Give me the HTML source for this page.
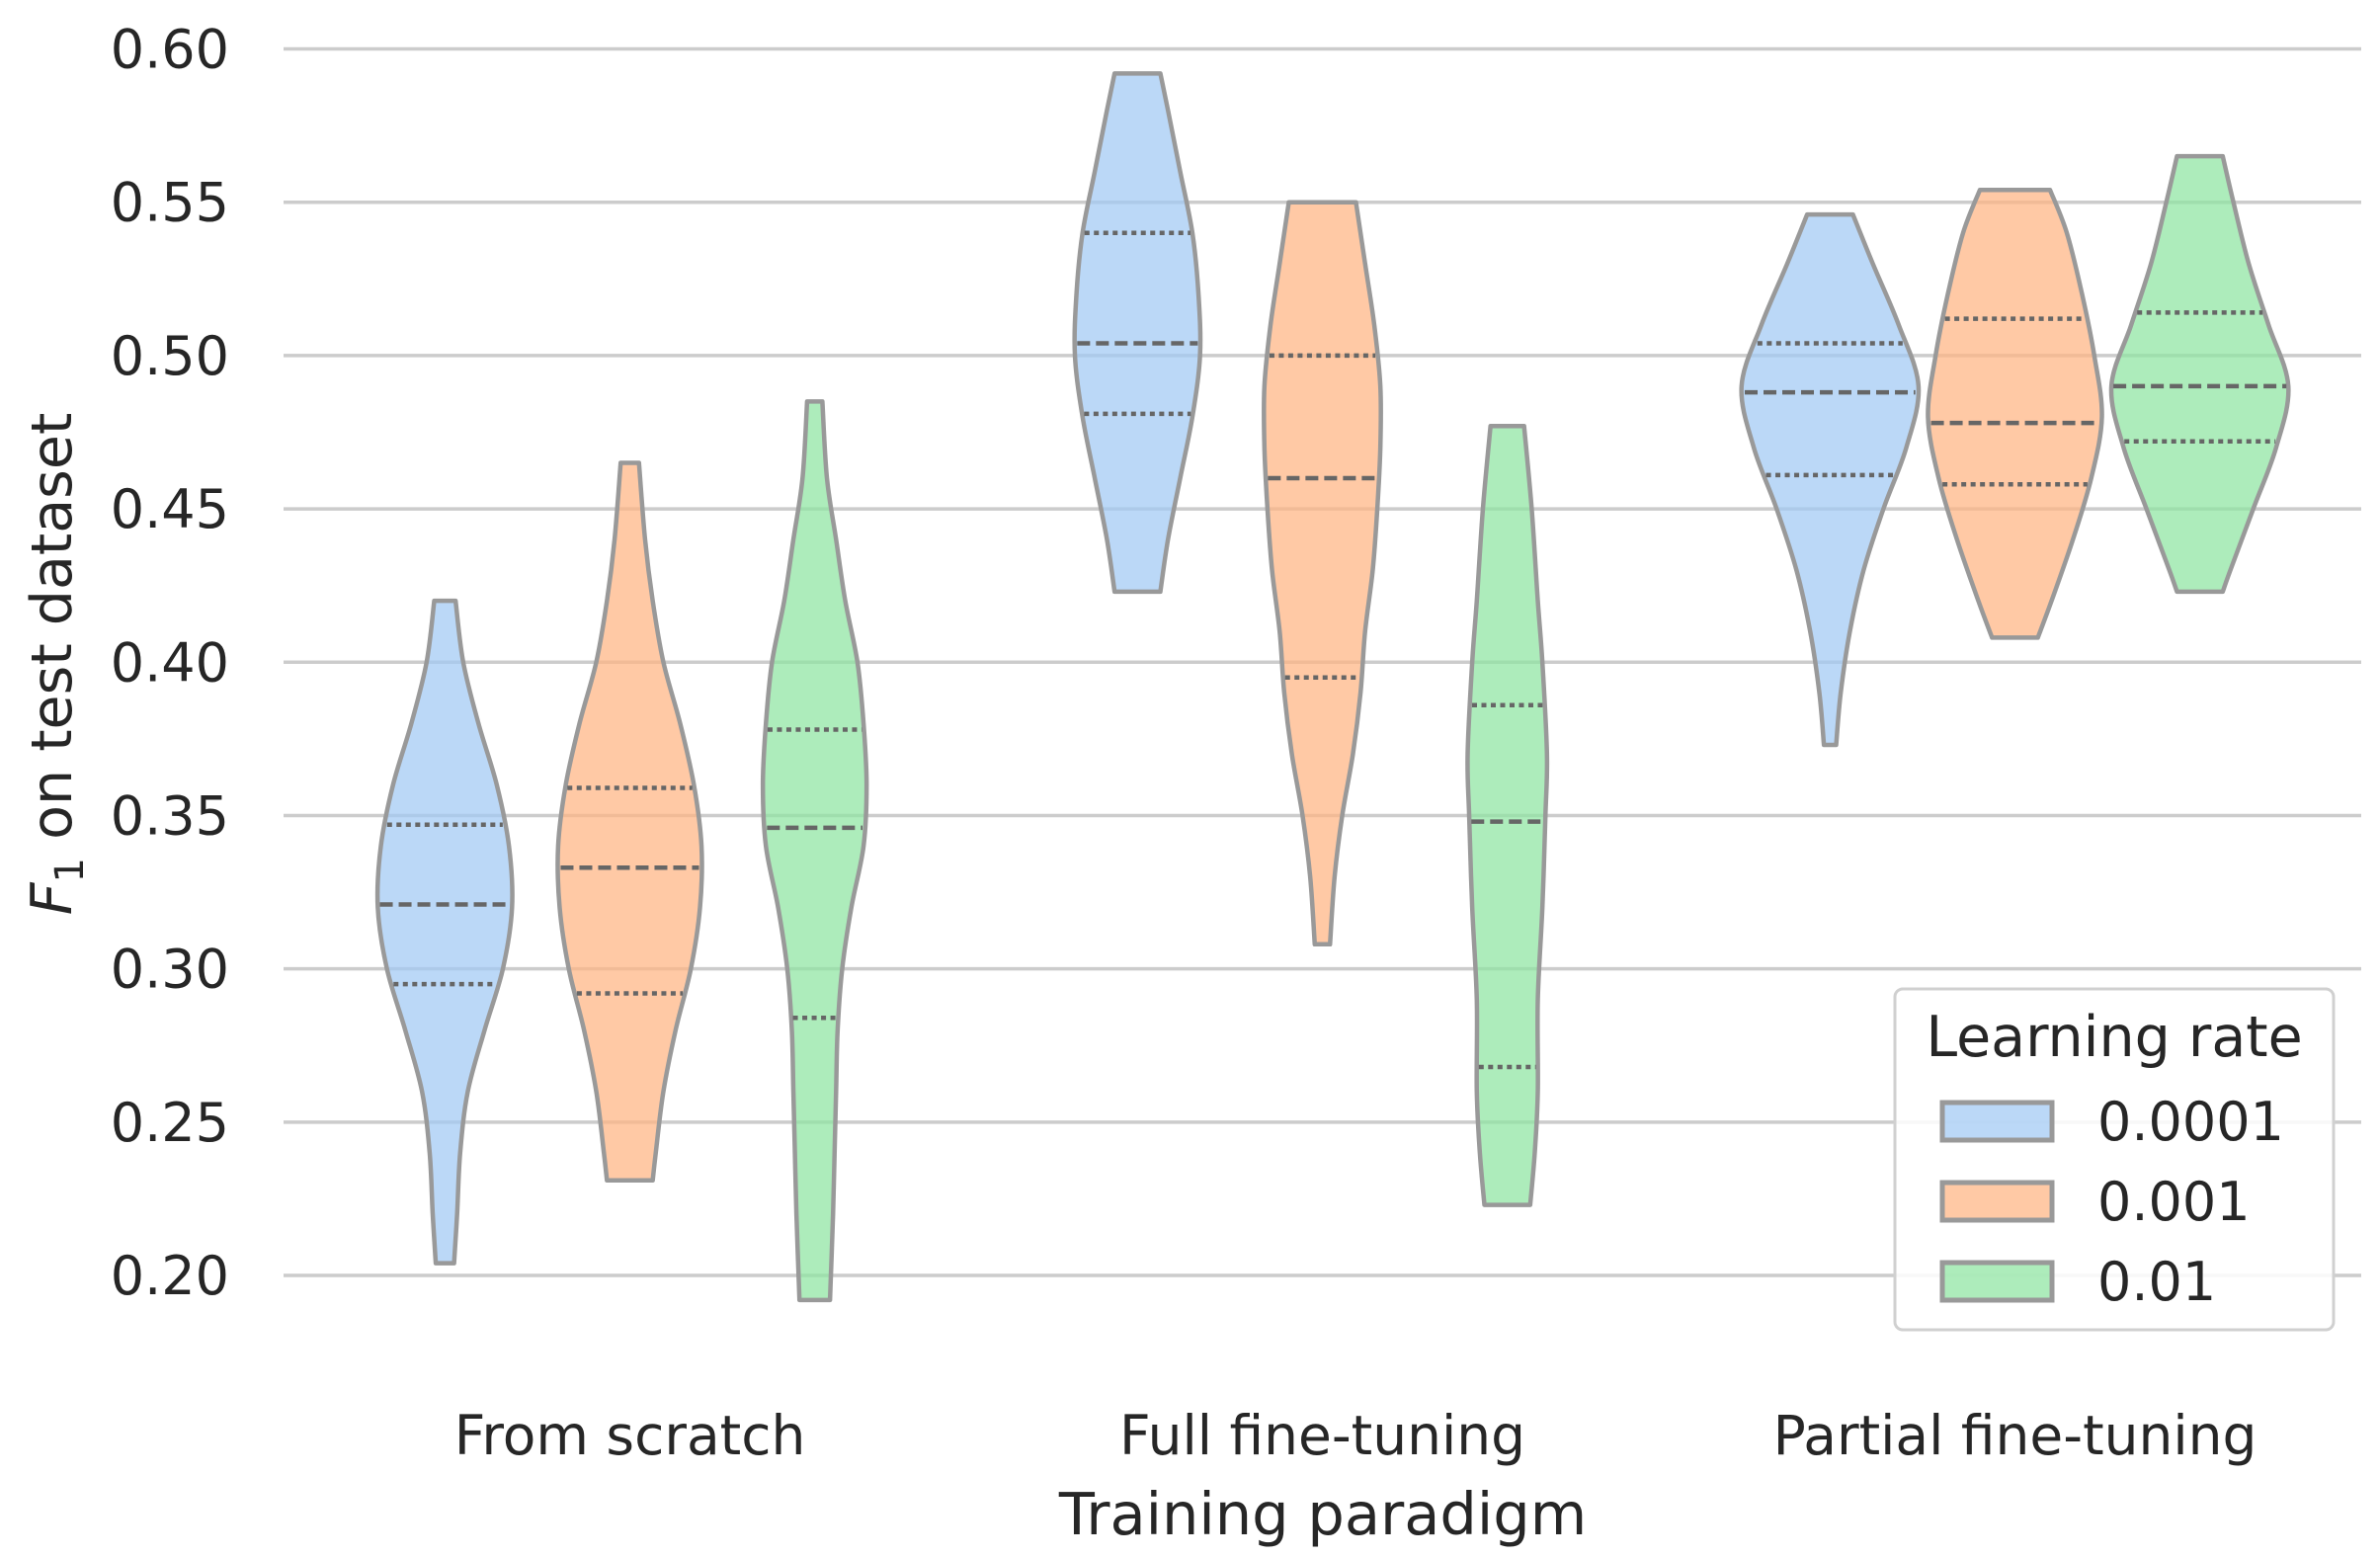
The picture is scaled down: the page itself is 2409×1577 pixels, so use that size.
<!DOCTYPE html>
<html><head><meta charset="utf-8"><style>
html,body{margin:0;padding:0;background:#fff;}
svg{display:block;font-family:"DejaVu Sans","Liberation Sans",sans-serif;}
</style></head><body>
<svg id="chart" width="2409" height="1577" viewBox="0 0 2409 1577" xmlns="http://www.w3.org/2000/svg">
<g id="grid"></g>
<g id="yticks"></g>
<g id="violins"></g>
<g id="xticks"></g>
<text x="1339" y="1553" font-size="59" text-anchor="middle" fill="#262626">Training paradigm</text>
<text transform="translate(72,672) rotate(-90)" font-size="57" text-anchor="middle" fill="#262626"><tspan font-style="italic">F</tspan><tspan font-size="40" dy="12">1</tspan><tspan dy="-12"> on test dataset</tspan></text>
<g id="legend">
<rect x="1918" y="1001" width="444" height="345" rx="8" fill="#fff" fill-opacity="0.85" stroke="#d0d0d0" stroke-width="3"/>
<text x="2140" y="1069" font-size="57" text-anchor="middle" fill="#262626">Learning rate</text>
</g>
</svg>
<script>
const categories = ["From scratch","Full fine-tuning","Partial fine-tuning"];
const hues = ["0.0001","0.001","0.01"];
const yTicks = [0.20,0.25,0.30,0.35,0.40,0.45,0.50,0.55,0.60];
const colors = ["#a1c9f4","#ffb482","#8de5a1"];
// quartiles per violin [q1, median, q3], order: category-major, hue-minor
const quartiles = [
 [0.295,0.321,0.347],[0.292,0.333,0.359],[0.284,0.346,0.378],
 [0.481,0.504,0.540],[0.395,0.460,0.500],[0.268,0.348,0.386],
 [0.461,0.488,0.504],[0.458,0.478,0.512],[0.472,0.490,0.514]
];
// density profiles: [value, relative density width]
const profiles = [
 [[0.420,7],[0.40,12],[0.38,22],[0.36,34],[0.34,42],[0.32,44],[0.30,38],[0.28,26],[0.26,15],[0.24,10],[0.22,8],[0.204,6]],
 [[0.465,6],[0.44,10],[0.42,15],[0.40,22],[0.38,33],[0.36,42],[0.34,47],[0.32,46],[0.30,40],[0.28,30],[0.26,22],[0.24,17],[0.231,15]],
 [[0.485,5],[0.46,8],[0.44,14],[0.42,20],[0.40,28],[0.38,32],[0.36,34],[0.34,32],[0.32,24],[0.30,18],[0.28,15],[0.26,14],[0.24,13],[0.22,12],[0.192,10]],
 [[0.592,15],[0.58,20],[0.56,28],[0.54,36],[0.52,40],[0.50,41],[0.48,36],[0.46,28],[0.44,20],[0.423,15]],
 [[0.550,22],[0.53,28],[0.51,34],[0.49,38],[0.47,38],[0.45,36],[0.43,33],[0.41,28],[0.39,25],[0.37,20],[0.35,13],[0.33,8],[0.308,5]],
 [[0.477,11],[0.45,16],[0.42,20],[0.40,23],[0.37,26],[0.35,25],[0.32,23],[0.29,20],[0.26,20],[0.24,18],[0.223,15]],
 [[0.546,15],[0.53,28],[0.51,45],[0.49,58],[0.47,50],[0.45,35],[0.43,22],[0.41,13],[0.39,7],[0.373,4]],
 [[0.554,23],[0.54,34],[0.52,44],[0.50,52],[0.48,57],[0.46,50],[0.44,38],[0.42,24],[0.408,15]],
 [[0.565,15],[0.55,22],[0.53,32],[0.51,45],[0.49,58],[0.47,50],[0.45,35],[0.43,20],[0.423,15]]
];
const NS="http://www.w3.org/2000/svg";
const L=287,R=2390,Y0=0.20,Y1=0.60,PY0=1291,PY1=49.5;
const yS=v=>PY0+(v-Y0)/(Y1-Y0)*(PY1-PY0);
const band=(R-L)/categories.length;
const xS=(c,h)=>L+band*(c+0.5)+(h-1)*band*0.267;
const wS=d=>d*1.544;
function mk(tag,attrs,parent){const e=document.createElementNS(NS,tag);for(const k in attrs)e.setAttribute(k,attrs[k]);parent.appendChild(e);return e;}
const grid=document.getElementById('grid'),yt=document.getElementById('yticks');
yTicks.forEach(v=>{
 const l=mk('line',{x1:L,x2:R,y1:yS(v),y2:yS(v),stroke:'#cccccc','stroke-width':3.5},grid);
 
 
 const t=mk('text',{x:232,y:yS(v)+19,'font-size':54,'text-anchor':'end',fill:'#262626'},yt);
 
 
 t.textContent=v.toFixed(2);
});
const xt=document.getElementById('xticks');
categories.forEach((c,i)=>{
 const t=mk('text',{x:L+band*(i+0.5),y:1472,'font-size':55,'text-anchor':'middle',fill:'#262626'},xt);
 
 
 t.textContent=c;
});
function widthAt(p,v){
 for(let i=0;i<p.length-1;i++){const a=p[i],b=p[i+1];if(v<=a[0]&&v>=b[0]){const t=(a[0]-v)/(a[0]-b[0]);return a[1]+t*(b[1]-a[1]);}}
 return p[p.length-1][1];
}
function smooth(pts){
 let d='';
 for(let i=0;i<pts.length-1;i++){
  const p0=pts[Math.max(0,i-1)],p1=pts[i],p2=pts[i+1],p3=pts[Math.min(pts.length-1,i+2)];
  const c1=[p1[0]+(p2[0]-p0[0])/6,p1[1]+(p2[1]-p0[1])/6],c2=[p2[0]-(p3[0]-p1[0])/6,p2[1]-(p3[1]-p1[1])/6];
  d+=` C${c1[0]},${c1[1]} ${c2[0]},${c2[1]} ${p2[0]},${p2[1]}`;
 }
 return d;
}
const vg=document.getElementById('violins');
profiles.forEach((p,k)=>{
 const c=Math.floor(k/3),h=k%3,cx=xS(c,h);
 const right=p.map(q=>[cx+wS(q[1]),yS(q[0])]);
 const left=p.slice().reverse().map(q=>[cx-wS(q[1]),yS(q[0])]);
 let d=`M${cx-wS(p[0][1])},${yS(p[0][0])} L${right[0][0]},${right[0][1]}`+smooth(right)+` L${left[0][0]},${left[0][1]}`+smooth(left)+'Z';
 const g=mk('g',{},vg);
 
 
 mk('path',{d:d,fill:colors[h],'fill-opacity':0.72,stroke:'#999999','stroke-width':4.5,'stroke-linejoin':'round'},g);
 quartiles[k].forEach((v,j)=>{
  const w=wS(widthAt(p,v))-2;
  const ln=mk('line',{x1:cx-w,x2:cx+w,y1:yS(v),y2:yS(v),stroke:'#666666','stroke-width':4.5,'stroke-dasharray':j===1?'13,6':'5,4.5'},g);
  
  
 });
});
const lg=document.getElementById('legend');
hues.forEach((h,i)=>{
 const y=1135+i*81;
 const r=mk('rect',{x:1966,y:y-19,width:111,height:38,fill:colors[i],'fill-opacity':0.72,stroke:'#999999','stroke-width':5},lg);
 
 
 const t=mk('text',{x:2123,y:y+19,'font-size':54,fill:'#262626'},lg);
 
 
 t.textContent=h;
});
</script>
</body></html>
